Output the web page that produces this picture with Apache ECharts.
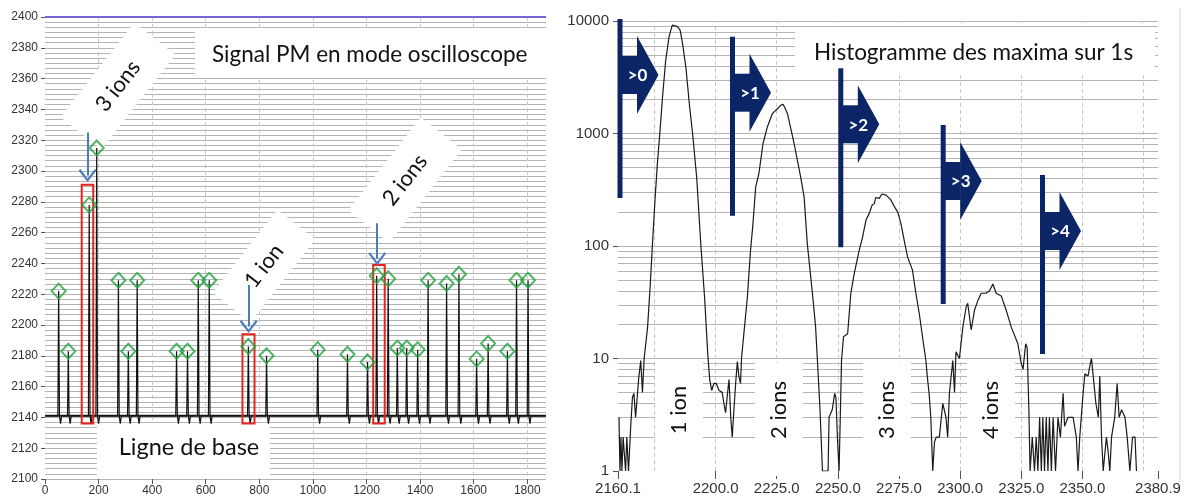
<!DOCTYPE html>
<html><head><meta charset="utf-8">
<script src="https://cdn.jsdelivr.net/npm/echarts@6/dist/echarts.min.js"></script>
<style>html,body{margin:0;padding:0;background:#fff}#c{width:1184px;height:502px}</style>
</head><body><div id="c"></div>
<script>
// ---------- Left panel: PM signal (oscilloscope mode) ----------
const spikePos  = [51, 87, 165, 193, 274, 311, 344, 491, 532, 572, 613, 759, 827, 1018, 1129, 1204, 1238, 1281, 1315, 1350, 1391, 1430, 1499, 1545, 1611, 1654, 1726, 1760, 1803];
const spikePeak = [2222, 2183, 2278, 2315, 2229, 2183, 2229, 2183, 2183, 2229, 2229, 2186, 2180, 2184, 2181, 2176, 2232, 2230, 2185, 2185, 2184, 2229, 2227, 2233, 2178, 2188, 2183, 2229, 2229];
const baselineLevel = 2141;
const dipLevel = 2136;
const signalRange = [0, 1870];
const topLineLevel = 2400;
// highlighted events: [xStart, xEnd, yTop, yBottom]
const eventBoxes = [[137, 180, 2291, 2136], [737, 782, 2194, 2136], [1225, 1268, 2239, 2136]];
// arrows: [x, yFrom, yTo]
const eventArrows = [[159, 2325, 2297], [760, 2226, 2199], [1240, 2266, 2243]];

// ---------- Right panel: histogram of maxima over 1 s ----------
const histBins = [2160.5,2160.9,2161.3,2161.7,2162.2,2162.7,2163.2,2163.7,2164.4,2165.3,2166.0,2166.6,2167.3,2168.0,2168.6,2169.4,2170.1,2170.8,2171.5,2172.2,2173.3,2174.2,2175.3,2176.2,2177.2,2178.3,2179.6,2181.0,2182.3,2183.0,2184.4,2185.5,2186.5,2187.9,2189.3,2190.6,2192.3,2194.0,2195.5,2196.8,2197.6,2198.4,2199.3,2200.3,2201.4,2202.7,2203.4,2204.1,2204.8,2205.5,2206.2,2206.8,2207.5,2208.2,2208.9,2209.5,2210.2,2210.6,2211.6,2213.0,2214.3,2215.2,2216.4,2217.7,2219.4,2221.2,2223.2,2225.3,2226.6,2227.6,2228.3,2229.4,2232.1,2234.8,2236.2,2237.5,2239.6,2240.9,2241.6,2242.7,2243.7,2246.0,2246.4,2247.7,2248.7,2249.2,2249.9,2250.5,2251.5,2252.3,2254.0,2255.3,2256.7,2258.7,2260.1,2261.5,2262.8,2264.0,2264.9,2265.5,2266.9,2268.0,2269.7,2271.5,2273.1,2274.5,2275.8,2277.2,2278.5,2280.5,2281.9,2283.3,2284.6,2286.0,2286.6,2287.3,2288.0,2288.8,2289.5,2290.2,2291.5,2292.9,2293.5,2294.2,2294.9,2295.6,2297.0,2297.7,2298.3,2299.7,2301.1,2302.5,2303.1,2304.5,2305.9,2307.3,2308.6,2310.6,2312.0,2313.4,2314.7,2316.8,2318.8,2320.9,2323.6,2325.0,2325.7,2326.8,2327.4,2328.1,2328.6,2329.5,2330.0,2330.4,2331.1,2331.8,2332.5,2333.2,2333.8,2334.5,2335.2,2335.9,2336.5,2337.3,2338.0,2339.0,2340.0,2341.0,2342.1,2342.7,2344.1,2346.2,2347.5,2348.2,2348.9,2350.3,2351.0,2352.3,2353.0,2353.7,2354.4,2355.5,2356.5,2357.1,2357.8,2358.5,2359.8,2360.5,2361.2,2361.9,2363.2,2364.2,2365.0,2366.0,2367.4,2368.3,2369.4,2370.5,2371.5,2372.1];
const histCounts = [3,1,2,1,2,2,1,2,1,2.5,4.5,4.9,3,3,6.8,9.6,5,10,10,19,46,105,272,540,1000,2100,4470,7300,9200,9460,8900,8300,6300,3800,1800,1000,400,100,35,11,6.5,5.2,6,6,5.2,5,4,3.3,4.7,6.5,3,2,3.5,6,9.4,7,6,10,17,35,92,150,335,440,815,1150,1500,1660,1780,1820,1700,1500,815,410,272,105,38,19,10,3.5,1,1,3,3.5,4.9,4.5,1.8,1,9.6,15.6,16.6,38,57,91,120,170,194,230,238,270,265,290,283,260,224,200,158,110,80,61,38,25,15.6,9.6,6.8,4.9,3,1,1.8,2,2,4,4,3,2,4.9,9.6,5,11.5,10,19,29,31,18,27,33,38,38,40,46,38,36,27,19,13.5,9,8,13.5,12.5,3.5,1,2,2,1,2,1,3,1,3,1,3,1,3,1,3,1,3,2,4.9,2.5,3,3,2,1,2,5,7.3,7,8.5,10,7,4,3,7,2,1,2,1.5,1,2,3,6,3,3.5,3,2,1,2,2,1];
const histTickLabels = [2160.1, 2200, 2225, 2250, 2275, 2300, 2325, 2350, 2380.9];
const histGridX = [2175, 2200, 2225, 2250, 2275, 2300, 2325, 2350, 2375];
const logMinorLines = [2,3,4,5,6,7,8,9,20,30,40,50,60,70,80,90,200,300,400,500,600,700,800,900,2000,3000,4000,5000,6000,7000,8000,9000];
const thresholdLabels = ['>0', '>1', '>2', '>3', '>4'];
const ionLabels = ['1 ion', '2 ions', '3 ions', '4 ions'];

// ---------- build series data ----------
const signalData = [[signalRange[0], baselineLevel]];
spikePos.forEach((x, i) => {
  signalData.push([x - 3, baselineLevel], [x, spikePeak[i]], [x + 3, baselineLevel], [x + 7, dipLevel], [x + 11, baselineLevel]);
});
signalData.push([signalRange[1], baselineLevel]);
const peakMarks = spikePos.map((x, i) => [x, spikePeak[i]]);
const histData = histBins.map((x, i) => [x, histCounts[i]]);

const NAVY = '#0b2566';
const FONT = 'Lato, "Noto Sans", sans-serif';

// ---------- annotation graphics ----------
const graphics = [];
function whiteBox(x, y, w, h) {
  graphics.push({type: 'rect', z: 1, silent: true, shape: {x, y, width: w, height: h}, style: {fill: '#fff'}});
}
function rotLabel(cx, cy, deg, L, W, text, size) {
  graphics.push({type: 'group', x: cx, y: cy, rotation: deg * Math.PI / 180, z: 2, silent: true, children: [
    {type: 'rect', z: 2, silent: true, shape: {x: -L / 2, y: -W / 2, width: L, height: W}, style: {fill: '#fff'}},
    {type: 'text', z: 3, silent: true, style: {text, x: 0, y: 0, align: 'center', verticalAlign: 'middle', textAlign: 'center', textVerticalAlign: 'middle', font: size + 'px ' + FONT, fill: '#111'}}
  ]});
}
function plainText(x, y, text, size, align) {
  graphics.push({type: 'text', z: 3, silent: true, style: {text, x, y, align: align || 'left', textAlign: align || 'left', verticalAlign: 'middle', textVerticalAlign: 'middle', font: size + 'px ' + FONT, fill: '#111'}});
}
// left panel boxes & texts
whiteBox(195, 30, 351, 47);
plainText(212, 55, 'Signal PM en mode oscilloscope', 22.5);
whiteBox(97, 423, 173, 55);
plainText(189, 447, 'Ligne de base', 23.5, 'center');
rotLabel(118, 86, 52, 120, 52, '3 ions', 22);
rotLabel(264, 266, 52, 105, 48, '1 ion', 22);
rotLabel(405, 180, 52, 118, 52, '2 ions', 22);
// right panel boxes & texts
whiteBox(795, 27, 360, 48);
plainText(814, 53, 'Histogramme des maxima sur 1s', 22.5);
const ionBoxX = [655, 755, 863, 967];
ionBoxX.forEach((bx, i) => {
  whiteBox(bx, 363, 48, 113);
  rotLabel(bx + 24, 410, 90, 2, 2, ionLabels[i], 22);
});
// threshold arrows
const arrowX = [617.5, 730, 838.3, 940.7, 1040];
const arrowTop = [19, 36.7, 68.3, 125, 175];
arrowX.forEach((x0, i) => {
  const T = arrowTop[i];
  graphics.push({type: 'rect', z: 5, silent: true, shape: {x: x0, y: T, width: 5, height: 179}, style: {fill: NAVY}});
  graphics.push({type: 'rect', z: 5, silent: true, shape: {x: x0 + 4, y: T + 37, width: 16, height: 38}, style: {fill: NAVY}});
  graphics.push({type: 'polygon', z: 5, silent: true, shape: {points: [[x0 + 19.5, T + 17], [x0 + 41, T + 56], [x0 + 19.5, T + 95]]}, style: {fill: NAVY}});
  graphics.push({type: 'text', z: 6, silent: true, style: {text: thresholdLabels[i], x: x0 + 20, y: T + 57, align: 'center', textAlign: 'center', verticalAlign: 'middle', textVerticalAlign: 'middle', font: 'bold 17px ' + FONT, fill: '#fff'}});
});
// right frame line
graphics.push({type: 'line', z: 1, silent: true, shape: {x1: 1180, y1: 8, x2: 1180, y2: 482}, style: {stroke: '#d6d6d6', lineWidth: 1}});

const chevron = 'path://M10,0 L20,13 L18,14.5 L10,4 L2,14.5 L0,13 Z';
const plainNum = v => String(v);

const option = {
  animation: false,
  backgroundColor: '#fff',
  grid: [
    {left: 45, top: 17, width: 501, height: 462},
    {left: 618, top: 21, width: 540, height: 450}
  ],
  xAxis: [
    {gridIndex: 0, type: 'value', min: signalRange[0], max: signalRange[1], interval: 200,
     axisLine: {show: false}, axisTick: {show: true, length: 5, lineStyle: {color: '#555'}},
     axisLabel: {formatter: plainNum, fontSize: 12, color: '#333', margin: 6, showMaxLabel: false, fontFamily: 'Liberation Sans, Arial, sans-serif'},
     splitLine: {show: true, showMinLine: false, showMaxLine: false, lineStyle: {color: '#c8c8c8', type: [4, 3]}}},
    {gridIndex: 1, type: 'value', min: 2160.1, max: 2380.9,
     axisLine: {show: false}, axisTick: {show: true, length: 8, customValues: histTickLabels, lineStyle: {color: '#555'}},
     axisLabel: {customValues: histTickLabels, formatter: v => Number(v).toFixed(1), fontSize: 15, color: '#333', margin: 10, fontFamily: 'Liberation Sans, Arial, sans-serif'},
     splitLine: {show: false}}
  ],
  yAxis: [
    {gridIndex: 0, type: 'value', min: 2100, max: 2400, interval: 20,
     axisLine: {show: false}, axisTick: {show: true, length: 4, lineStyle: {color: '#555'}},
     axisLabel: {formatter: plainNum, fontSize: 12, color: '#333', margin: 7, fontFamily: 'Liberation Sans, Arial, sans-serif'},
     splitLine: {show: true, lineStyle: {color: '#b4b4b4'}},
     minorTick: {show: false, splitNumber: 6},
     minorSplitLine: {show: true, lineStyle: {color: '#b4b4b4'}}},
    {gridIndex: 1, type: 'log', logBase: 10, min: 1, max: 10000,
     axisLine: {show: false}, axisTick: {show: true, length: 5, lineStyle: {color: '#555'}},
     axisLabel: {formatter: plainNum, fontSize: 15, color: '#333', margin: 9, fontFamily: 'Liberation Sans, Arial, sans-serif'},
     splitLine: {show: true, showMinLine: false, lineStyle: {color: '#b4b4b4'}}}
  ],
  graphic: graphics,
  series: [
    {type: 'line', name: 'baseline', xAxisIndex: 0, yAxisIndex: 0, silent: true, z: 2,
     data: [[signalRange[0], baselineLevel], [signalRange[1], baselineLevel]],
     symbol: 'none', lineStyle: {color: '#222', width: 2},
     markLine: {silent: true, z: 4, symbol: ['none', 'none'], label: {show: false},
       lineStyle: {color: '#7765d6', width: 2, type: 'solid'}, data: [{yAxis: topLineLevel}]}},
    {type: 'line', name: 'signal', xAxisIndex: 0, yAxisIndex: 0, silent: true, z: 2,
     data: signalData, symbol: 'none', lineStyle: {color: '#111', width: 1.2},
     markArea: {silent: true, z: 3, itemStyle: {color: 'rgba(0,0,0,0)', borderColor: '#e8231f', borderWidth: 2},
       data: eventBoxes.map(b => [{coord: [b[0], b[2]]}, {coord: [b[1], b[3]]}])},
     markLine: {silent: true, z: 4, symbol: ['none', chevron], symbolSize: [18, 13], label: {show: false},
       lineStyle: {color: '#4a7ebb', width: 2, type: 'solid'},
       data: eventArrows.map(a => [{coord: [a[0], a[1]]}, {coord: [a[0], a[2]]}])}},
    {type: 'scatter', name: 'maxima', xAxisIndex: 0, yAxisIndex: 0, silent: true, z: 3,
     data: peakMarks, symbol: 'diamond', symbolSize: [14, 15],
     itemStyle: {color: 'rgba(255,255,255,0)', borderColor: '#23a340', borderWidth: 2}},
    {type: 'line', name: 'grid-helper', xAxisIndex: 1, yAxisIndex: 1, silent: true, data: [],
     markLine: {silent: true, z: 0, symbol: ['none', 'none'], label: {show: false},
       data: histGridX.map(v => ({xAxis: v, lineStyle: {color: '#c8c8c8', type: [4, 3], width: 1}}))
         .concat(logMinorLines.map(v => ({yAxis: v, lineStyle: {color: '#b4b4b4', type: 'solid', width: 1}})))}},
    {type: 'line', name: 'histogram', xAxisIndex: 1, yAxisIndex: 1, silent: true, z: 2,
     data: histData, symbol: 'none', lineStyle: {color: '#1a1a1a', width: 1.2}}
  ]
};
const chart = echarts.init(document.getElementById('c'), null, {renderer: 'canvas'});
chart.setOption(option);
</script></body></html>
